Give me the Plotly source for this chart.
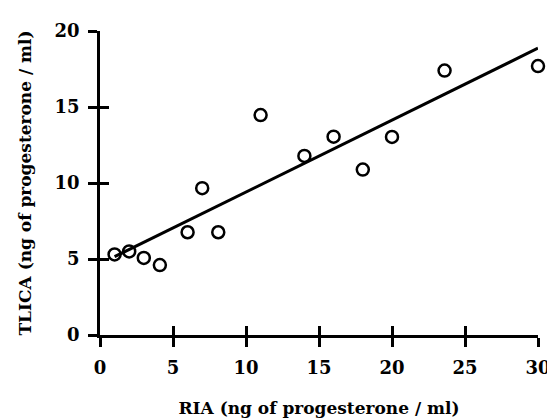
import plotly.graph_objects as go

# Data
ria = [1.0, 2.0, 3.0, 4.1, 6.0, 7.0, 8.1, 11.0, 14.0, 16.0, 18.0, 20.0, 23.6, 30.0]
tlica = [5.3, 5.5, 5.07, 4.6, 6.76, 9.66, 6.76, 14.47, 11.78, 13.05, 10.88, 13.03, 17.4, 17.69]
fit_x = [1.0, 30.0]
fit_y = [5.15, 18.87]
x_ticks = [0, 5, 10, 15, 20, 25, 30]
y_ticks = [0, 5, 10, 15, 20]

FONT = "DejaVu Serif"
BLACK = "#000000"

fig = go.Figure()
fig.add_trace(go.Scatter(x=fit_x, y=fit_y, mode="lines",
                         line=dict(color=BLACK, width=3), showlegend=False,
                         hoverinfo="skip", cliponaxis=False))
fig.add_trace(go.Scatter(x=ria, y=tlica, mode="markers",
                         marker=dict(symbol="circle-open", size=12, color=BLACK,
                                     line=dict(width=2.5, color=BLACK)),
                         showlegend=False, cliponaxis=False))
# invisible trace for the overlay axes that give crossing ticks
fig.add_trace(go.Scatter(x=[0], y=[0], xaxis="x2", yaxis="y2", mode="markers",
                         marker=dict(opacity=0), showlegend=False, hoverinfo="skip"))

tickfont = dict(family=FONT, size=18, color=BLACK, weight="bold")
titlefont = dict(family=FONT, size=17, color=BLACK, weight="bold")

fig.update_layout(
    width=555, height=419,
    margin=dict(l=92, r=13, t=21, b=86),
    paper_bgcolor="white", plot_bgcolor="white",
    xaxis=dict(range=[0, 30], tickvals=x_ticks, ticks="outside", ticklen=9,
               tickwidth=2.5, tickcolor=BLACK, showline=True, linewidth=2.5,
               linecolor=BLACK, showgrid=False, zeroline=False,
               tickfont=tickfont, ticklabelstandoff=6,
               title=dict(text="RIA (ng of progesterone / ml)", font=titlefont,
                          standoff=25)),
    yaxis=dict(range=[0, 20], tickvals=y_ticks, ticks="outside", ticklen=9,
               tickwidth=2.5, tickcolor=BLACK, showline=True, linewidth=2.5,
               linecolor=BLACK, showgrid=False, zeroline=False,
               tickfont=tickfont, ticklabelstandoff=5,
               title=dict(text="TLICA (ng of progesterone / ml)", font=titlefont,
                          standoff=19)),
    xaxis2=dict(range=[0, 30], tickvals=x_ticks, ticks="inside", ticklen=9,
                tickwidth=2.5, tickcolor=BLACK, showticklabels=False,
                showline=False, showgrid=False, zeroline=False,
                overlaying="x", anchor="y2", side="bottom"),
    yaxis2=dict(range=[0, 20], tickvals=y_ticks, ticks="inside", ticklen=9,
                tickwidth=2.5, tickcolor=BLACK, showticklabels=False,
                showline=False, showgrid=False, zeroline=False,
                overlaying="y", anchor="x2", side="left"),
)

fig.write_html("out.html")
